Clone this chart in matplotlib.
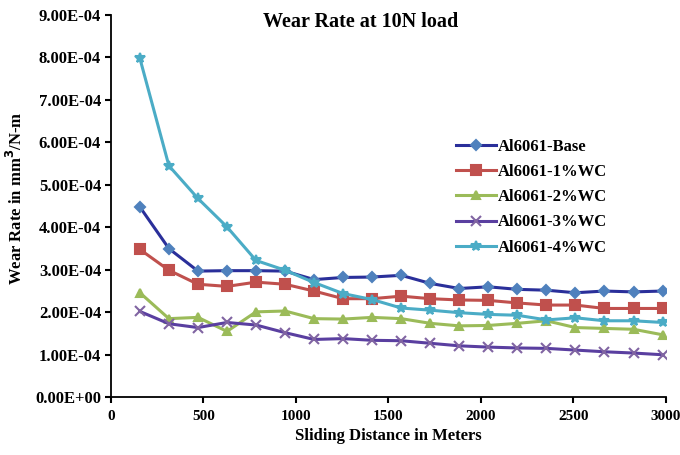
import matplotlib
matplotlib.use("Agg")
import matplotlib.pyplot as plt

# sliding distance (m)
distance = [157, 314, 471, 628, 785, 942, 1099, 1256, 1413, 1570,
            1727, 1884, 2041, 2198, 2355, 2512, 2669, 2826, 2983]

# wear rate (mm^3/N-m), in units of 1e-4
base = [4.48, 3.50, 2.97, 2.98, 2.98, 2.97, 2.77, 2.82, 2.83, 2.87,
        2.68, 2.56, 2.60, 2.54, 2.52, 2.46, 2.50, 2.48, 2.50]
wc1 = [3.48, 2.99, 2.66, 2.61, 2.71, 2.66, 2.50, 2.32, 2.32, 2.38,
       2.32, 2.29, 2.28, 2.22, 2.17, 2.17, 2.09, 2.09, 2.09]
wc2 = [2.46, 1.85, 1.88, 1.55, 2.01, 2.03, 1.85, 1.84, 1.88, 1.85,
       1.74, 1.68, 1.69, 1.74, 1.80, 1.64, 1.62, 1.60, 1.47]
wc3 = [2.02, 1.73, 1.64, 1.76, 1.70, 1.52, 1.36, 1.38, 1.34, 1.33,
       1.27, 1.21, 1.18, 1.16, 1.15, 1.11, 1.07, 1.04, 1.00]
wc4 = [7.98, 5.45, 4.68, 4.01, 3.22, 2.99, 2.70, 2.44, 2.30, 2.10,
       2.05, 1.99, 1.95, 1.93, 1.82, 1.87, 1.80, 1.80, 1.76]

labels = ["Al6061-Base", "Al6061-1%WC", "Al6061-2%WC", "Al6061-3%WC", "Al6061-4%WC"]
series = [base, wc1, wc2, wc3, wc4]

line_colors = ["#2A2F9A", "#C0504D", "#9BBB59", "#5A3FA0", "#4BACC6"]
face_colors = ["#4F81BD", "#C0504D", "#9BBB59", "#8064A2", "#4BACC6"]
markers = ["D", "s", "^", "x", "*"]
msizes = [5, 7, 6, 7, 7]

plt.rcParams["font.family"] = ["Liberation Serif", "DejaVu Serif"]
plt.rcParams["font.weight"] = "bold"

fig = plt.figure(figsize=(6.8, 4.55), dpi=100)
ax = fig.add_axes([0.163, 0.127, 0.816, 0.840])

for vals, lab, lc, fc, mk, ms in zip(series, labels, line_colors, face_colors, markers, msizes):
    ax.plot(distance, [v * 1e-4 for v in vals], color=lc, lw=2.2, marker=mk,
            markersize=ms, markerfacecolor=fc, markeredgecolor=fc, markeredgewidth=1.5,
            label=lab)

ax.set_xlim(0, 3000)
ax.set_ylim(0, 9e-4)
ax.set_xticks(range(0, 3001, 500))
ax.set_yticks([i * 1e-4 for i in range(10)])
ax.set_yticklabels(["%.2fE-04" % i if i else "0.00E+00" for i in range(10)])
ax.tick_params(axis="y", labelsize=12, width=1.5, length=4, direction="out", pad=3)
ax.tick_params(axis="x", labelsize=11, width=1.5, length=4, direction="out", pad=5)

for s in ["top", "right"]:
    ax.spines[s].set_visible(False)
for s in ["left", "bottom"]:
    ax.spines[s].set_linewidth(1.3)

ax.set_xlabel("Sliding Distance in Meters", fontsize=12, fontweight="bold", labelpad=4)
ax.set_ylabel("Wear Rate in mm$^3$/N-m", fontsize=12, fontweight="bold")
ax.yaxis.set_label_coords(-0.152, 0.52)

fig.text(0.53, 0.952, "Wear Rate at 10N load", ha="center", va="center",
         fontsize=14.5, fontweight="bold")

ax.legend(loc="upper left", bbox_to_anchor=(0.595, 0.715), frameon=False,
          handlelength=2.4, handletextpad=0.1, labelspacing=0.55,
          prop={"weight": "bold", "size": 12})

fig.savefig("out.png", dpi=100)
